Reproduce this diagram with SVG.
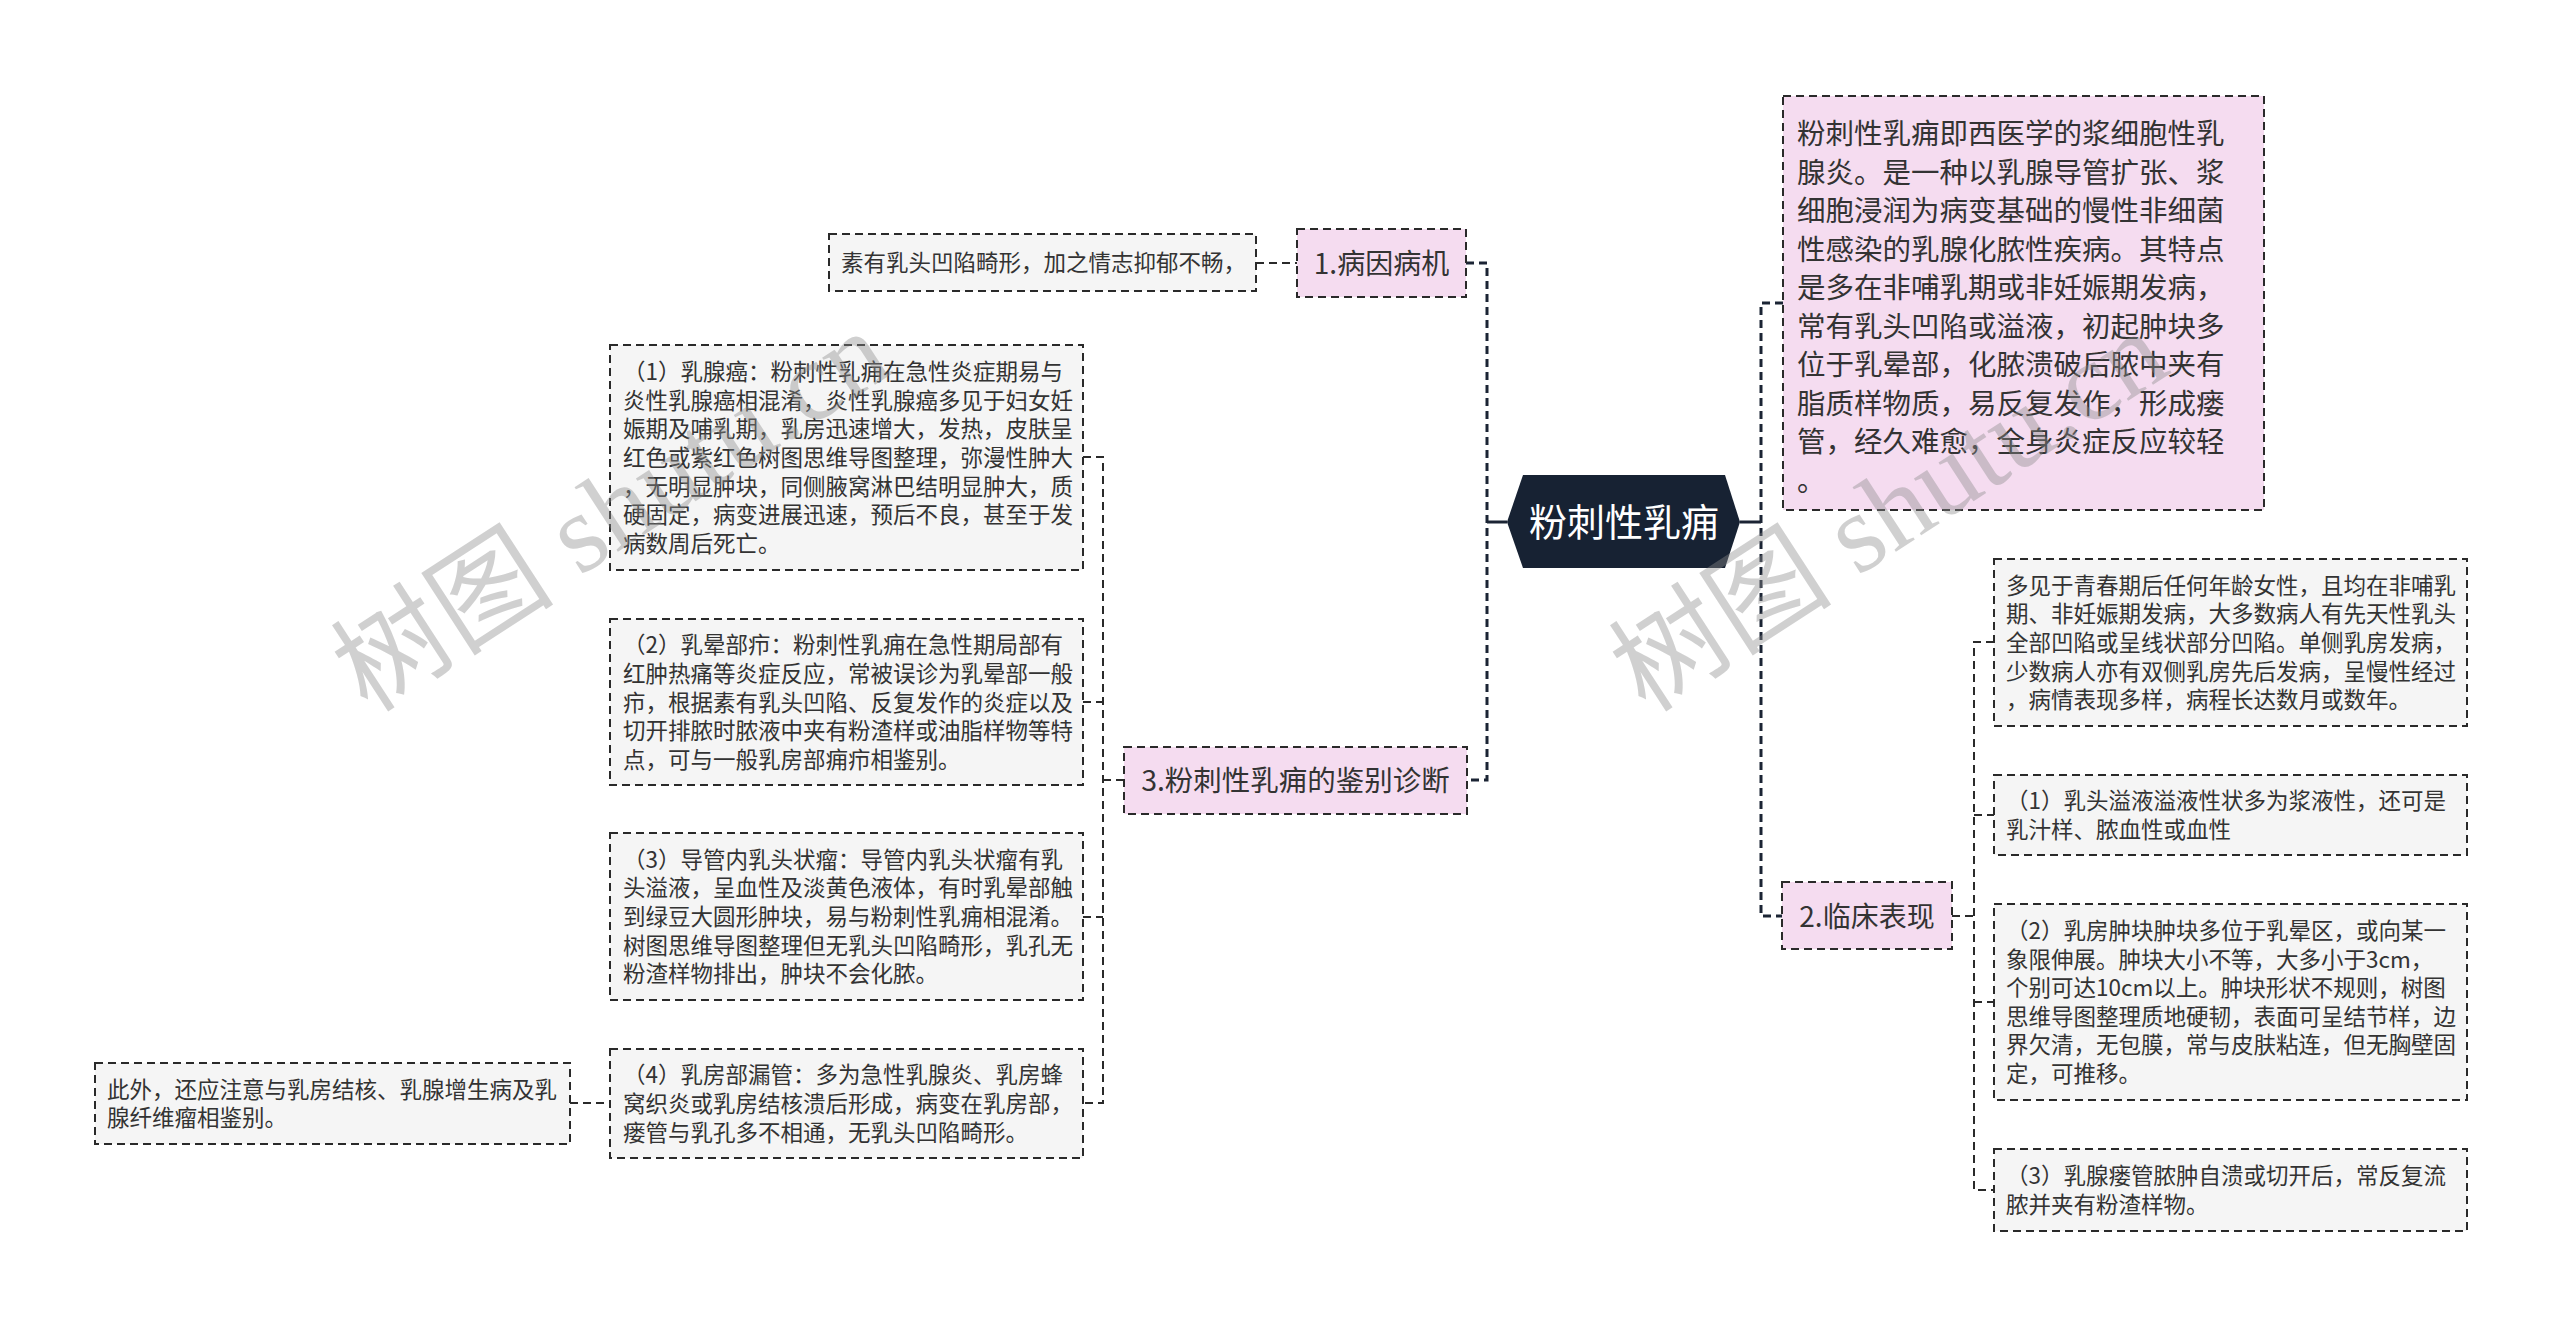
<svg xmlns="http://www.w3.org/2000/svg" width="2560" height="1323" viewBox="0 0 2560 1323">
<style>
text{font-family:"Noto Sans CJK SC","Liberation Sans",sans-serif;fill:#333;}
.t{font-size:22.5px;}
.tp{font-size:28.5px;}
.tm{font-size:28px;}
.box{fill:#f5f5f5;stroke:#2a2a2a;stroke-width:2;stroke-dasharray:8 5;}
.pink{fill:#f5dcf0;stroke:#2a2a2a;stroke-width:2;stroke-dasharray:8 5;}
.c{fill:none;stroke:#2a2a2a;stroke-width:2;stroke-dasharray:8 5;}
.cm{fill:none;stroke:#1b2434;stroke-width:3;stroke-dasharray:8 5;}
.cs{fill:none;stroke:#1b2434;stroke-width:3;}
.wm{font-family:"Liberation Serif","Noto Sans CJK SC",serif;font-size:112px;fill:#8c8c8c;opacity:0.4;}
</style>
<rect width="2560" height="1323" fill="#ffffff"/>
<g id="connectors">
<path class="cm" d="M1466,263 H1487 V780 H1467"/>
<path class="cs" d="M1487,522 H1507"/>
<path class="cm" d="M1783,303 H1761 V916 H1782"/>
<path class="cs" d="M1740,522 H1761"/>
<path class="c" d="M1256,263 H1297"/>
<path class="c" d="M1083,457 H1103 V1103 H1083"/>
<path class="c" d="M1083,702 H1103"/>
<path class="c" d="M1083,917 H1103"/>
<path class="c" d="M1103,780 H1124"/>
<path class="c" d="M570,1103 H610"/>
<path class="c" d="M1994,642 H1974 V1190 H1994"/>
<path class="c" d="M1974,815 H1994"/>
<path class="c" d="M1974,1002 H1994"/>
<path class="c" d="M1952,916 H1974"/>
</g>
<g id="root">
<polygon points="1507,522 1523,475 1725,475 1740,522 1725,568 1523,568" fill="#172233"/>
<text x="1624" y="536" text-anchor="middle" style="font-size:38px;fill:#ffffff">粉刺性乳痈</text>
</g>
<g id="desc">
<rect class="pink" x="1783" y="96" width="481" height="414"/>
<text class="tp" x="1797" y="144">粉刺性乳痈即西医学的浆细胞性乳</text>
<text class="tp" x="1797" y="182.5">腺炎。是一种以乳腺导管扩张、浆</text>
<text class="tp" x="1797" y="221">细胞浸润为病变基础的慢性非细菌</text>
<text class="tp" x="1797" y="259.5">性感染的乳腺化脓性疾病。其特点</text>
<text class="tp" x="1797" y="298">是多在非哺乳期或非妊娠期发病，</text>
<text class="tp" x="1797" y="336.5">常有乳头凹陷或溢液，初起肿块多</text>
<text class="tp" x="1797" y="375">位于乳晕部，化脓溃破后脓中夹有</text>
<text class="tp" x="1797" y="413.5">脂质样物质，易反复发作，形成瘘</text>
<text class="tp" x="1797" y="452">管，经久难愈，全身炎症反应较轻</text>
<text class="tp" x="1797" y="490.5">。</text>
</g>
<g id="n1">
<rect class="pink" x="1297" y="229" width="169" height="68"/>
<text class="tm" x="1381.5" y="273.5" text-anchor="middle">1.病因病机</text>
</g>
<g id="n1a">
<rect class="box" x="829" y="234" width="427" height="57"/>
<text class="t" x="841" y="271">素有乳头凹陷畸形，加之情志抑郁不畅，</text>
</g>
<g id="n3">
<rect class="pink" x="1124" y="747" width="343" height="67"/>
<text class="tp" x="1295.5" y="791" text-anchor="middle">3.粉刺性乳痈的鉴别诊断</text>
</g>
<g id="n3a">
<rect class="box" x="610" y="345" width="473" height="225"/>
<text class="t" x="623" y="380.2">（1）乳腺癌：粉刺性乳痈在急性炎症期易与</text>
<text class="t" x="623" y="408.8">炎性乳腺癌相混淆，炎性乳腺癌多见于妇女妊</text>
<text class="t" x="623" y="437.4">娠期及哺乳期，乳房迅速增大，发热，皮肤呈</text>
<text class="t" x="623" y="466">红色或紫红色树图思维导图整理，弥漫性肿大</text>
<text class="t" x="623" y="494.6">，无明显肿块，同侧腋窝淋巴结明显肿大，质</text>
<text class="t" x="623" y="523.2">硬固定，病变进展迅速，预后不良，甚至于发</text>
<text class="t" x="623" y="551.8">病数周后死亡。</text>
</g>
<g id="n3b">
<rect class="box" x="610" y="619" width="473" height="166"/>
<text class="t" x="623" y="653.3">（2）乳晕部疖：粉刺性乳痈在急性期局部有</text>
<text class="t" x="623" y="681.9">红肿热痛等炎症反应，常被误诊为乳晕部一般</text>
<text class="t" x="623" y="710.5">疖，根据素有乳头凹陷、反复发作的炎症以及</text>
<text class="t" x="623" y="739.1">切开排脓时脓液中夹有粉渣样或油脂样物等特</text>
<text class="t" x="623" y="767.7">点，可与一般乳房部痈疖相鉴别。</text>
</g>
<g id="n3c">
<rect class="box" x="610" y="833" width="473" height="167"/>
<text class="t" x="623" y="867.8">（3）导管内乳头状瘤：导管内乳头状瘤有乳</text>
<text class="t" x="623" y="896.4">头溢液，呈血性及淡黄色液体，有时乳晕部触</text>
<text class="t" x="623" y="925">到绿豆大圆形肿块，易与粉刺性乳痈相混淆。</text>
<text class="t" x="623" y="953.6">树图思维导图整理但无乳头凹陷畸形，乳孔无</text>
<text class="t" x="623" y="982.2">粉渣样物排出，肿块不会化脓。</text>
</g>
<g id="n3d">
<rect class="box" x="610" y="1049" width="473" height="109"/>
<text class="t" x="623" y="1083.4">（4）乳房部漏管：多为急性乳腺炎、乳房蜂</text>
<text class="t" x="623" y="1112">窝织炎或乳房结核溃后形成，病变在乳房部，</text>
<text class="t" x="623" y="1140.6">瘘管与乳孔多不相通，无乳头凹陷畸形。</text>
</g>
<g id="n3e">
<rect class="box" x="95" y="1063" width="475" height="81"/>
<text class="t" x="107" y="1097.7">此外，还应注意与乳房结核、乳腺增生病及乳</text>
<text class="t" x="107" y="1126.3">腺纤维瘤相鉴别。</text>
</g>
<g id="n2">
<rect class="pink" x="1782" y="882" width="170" height="67"/>
<text class="tm" x="1867" y="926.5" text-anchor="middle">2.临床表现</text>
</g>
<g id="n2a">
<rect class="box" x="1994" y="559" width="473" height="167"/>
<text class="t" x="2006" y="593.8">多见于青春期后任何年龄女性，且均在非哺乳</text>
<text class="t" x="2006" y="622.4">期、非妊娠期发病，大多数病人有先天性乳头</text>
<text class="t" x="2006" y="651">全部凹陷或呈线状部分凹陷。单侧乳房发病，</text>
<text class="t" x="2006" y="679.6">少数病人亦有双侧乳房先后发病，呈慢性经过</text>
<text class="t" x="2006" y="708.2">，病情表现多样，病程长达数月或数年。</text>
</g>
<g id="n2b">
<rect class="box" x="1994" y="775" width="473" height="80"/>
<text class="t" x="2006" y="809.2">（1）乳头溢液溢液性状多为浆液性，还可是</text>
<text class="t" x="2006" y="837.8">乳汁样、脓血性或血性</text>
</g>
<g id="n2c">
<rect class="box" x="1994" y="904" width="473" height="196"/>
<text class="t" x="2006" y="939">（2）乳房肿块肿块多位于乳晕区，或向某一</text>
<text class="t" x="2006" y="967.6">象限伸展。肿块大小不等，大多小于3cm，</text>
<text class="t" x="2006" y="996.2">个别可达10cm以上。肿块形状不规则，树图</text>
<text class="t" x="2006" y="1024.8">思维导图整理质地硬韧，表面可呈结节样，边</text>
<text class="t" x="2006" y="1053.4">界欠清，无包膜，常与皮肤粘连，但无胸壁固</text>
<text class="t" x="2006" y="1082">定，可推移。</text>
</g>
<g id="n2d">
<rect class="box" x="1994" y="1149" width="473" height="82"/>
<text class="t" x="2006" y="1184.2">（3）乳腺瘘管脓肿自溃或切开后，常反复流</text>
<text class="t" x="2006" y="1212.8">脓并夹有粉渣样物。</text>
</g>
<g id="watermarks">
<text class="wm" x="368" y="714" transform="rotate(-33 368 714)">树图 shutu.cn</text>
<text class="wm" x="1646" y="714" transform="rotate(-33 1646 714)">树图 shutu.cn</text>
</g>
</svg>
